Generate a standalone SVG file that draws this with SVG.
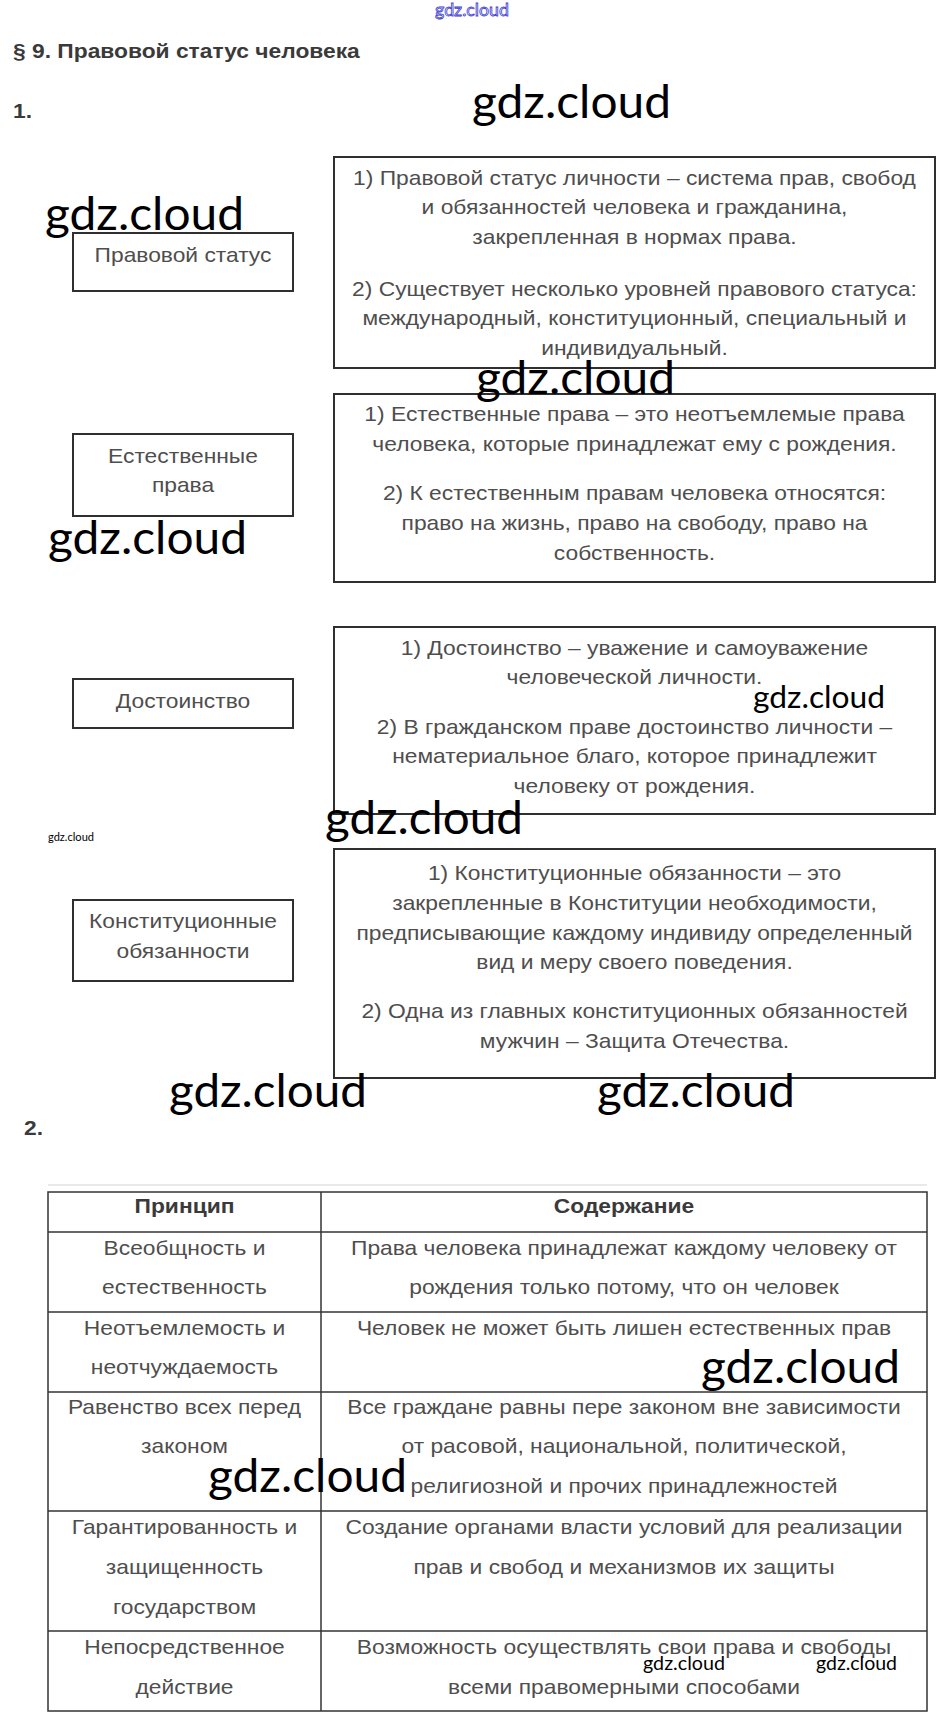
<svg xmlns="http://www.w3.org/2000/svg" width="944" height="1721" viewBox="0 0 944 1721">
<style>
.box{fill:none;stroke:#2f2f2f;stroke-width:2}
.t{font-family:"Liberation Sans",Arial,sans-serif;font-size:20px;fill:#4e4e4e;text-anchor:middle}
.h{font-family:"Liberation Sans",Arial,sans-serif;font-size:20px;font-weight:bold;fill:#3a3a3a}
.hc{text-anchor:middle}
.wm{font-family:Lato,"Open Sans",sans-serif;fill:#000}
.wmb{font-family:Lato,"Open Sans",sans-serif;fill:#fff;stroke:#3b3bd0;stroke-width:0.8}
.grid{stroke:#333;stroke-width:1.5;fill:none}
.faint{stroke:#e2e2e2;stroke-width:1.5;fill:none}
</style>
<rect width="944" height="1721" fill="#fff"/>

<g id="heading">
<text class="h" transform="matrix(1.14 0 0 1 13 58)">§ 9. Правовой статус человека</text>
<text class="h" transform="matrix(1.14 0 0 1 13 118)">1.</text>
</g>

<g id="connectors"></g>

<g id="node-pravovoy-status">
<rect class="box" x="73" y="233" width="220" height="58"/>
<text class="t" transform="matrix(1.14 0 0 1 183 262)">Правовой статус</text>
</g>
<g id="node-pravovoy-status-def">
<rect class="box" x="334" y="157" width="601" height="211"/>
<text class="t" transform="matrix(1.14 0 0 1 634.5 185)">1) Правовой статус личности – система прав, свобод</text>
<text class="t" transform="matrix(1.14 0 0 1 634.5 214)">и обязанностей человека и гражданина,</text>
<text class="t" transform="matrix(1.14 0 0 1 634.5 244)">закрепленная в нормах права.</text>
<text class="t" transform="matrix(1.14 0 0 1 634.5 296)">2) Существует несколько уровней правового статуса:</text>
<text class="t" transform="matrix(1.14 0 0 1 634.5 325)">международный, конституционный, специальный и</text>
<text class="t" transform="matrix(1.14 0 0 1 634.5 355)">индивидуальный.</text>
</g>

<g id="node-estestvennye-prava">
<rect class="box" x="73" y="434" width="220" height="82"/>
<text class="t" transform="matrix(1.14 0 0 1 183 463)">Естественные</text>
<text class="t" transform="matrix(1.14 0 0 1 183 492)">права</text>
</g>
<g id="node-estestvennye-prava-def">
<rect class="box" x="334" y="394" width="601" height="188"/>
<text class="t" transform="matrix(1.14 0 0 1 634.5 421)">1) Естественные права – это неотъемлемые права</text>
<text class="t" transform="matrix(1.14 0 0 1 634.5 451)">человека, которые принадлежат ему с рождения.</text>
<text class="t" transform="matrix(1.14 0 0 1 634.5 500)">2) К естественным правам человека относятся:</text>
<text class="t" transform="matrix(1.14 0 0 1 634.5 530)">право на жизнь, право на свободу, право на</text>
<text class="t" transform="matrix(1.14 0 0 1 634.5 560)">собственность.</text>
</g>

<g id="node-dostoinstvo">
<rect class="box" x="73" y="679" width="220" height="49"/>
<text class="t" transform="matrix(1.14 0 0 1 183 708)">Достоинство</text>
</g>
<g id="node-dostoinstvo-def">
<rect class="box" x="334" y="627" width="601" height="187"/>
<text class="t" transform="matrix(1.14 0 0 1 634.5 655)">1) Достоинство – уважение и самоуважение</text>
<text class="t" transform="matrix(1.14 0 0 1 634.5 684)">человеческой личности.</text>
<text class="t" transform="matrix(1.14 0 0 1 634.5 734)">2) В гражданском праве достоинство личности –</text>
<text class="t" transform="matrix(1.14 0 0 1 634.5 763)">нематериальное благо, которое принадлежит</text>
<text class="t" transform="matrix(1.14 0 0 1 634.5 793)">человеку от рождения.</text>
</g>

<g id="node-konst-obyazannosti">
<rect class="box" x="73" y="900" width="220" height="81"/>
<text class="t" transform="matrix(1.14 0 0 1 183 928)">Конституционные</text>
<text class="t" transform="matrix(1.14 0 0 1 183 958)">обязанности</text>
</g>
<g id="node-konst-obyazannosti-def">
<rect class="box" x="334" y="849" width="601" height="229"/>
<text class="t" transform="matrix(1.14 0 0 1 634.5 880)">1) Конституционные обязанности – это</text>
<text class="t" transform="matrix(1.14 0 0 1 634.5 910)">закрепленные в Конституции необходимости,</text>
<text class="t" transform="matrix(1.14 0 0 1 634.5 940)">предписывающие каждому индивиду определенный</text>
<text class="t" transform="matrix(1.14 0 0 1 634.5 969)">вид и меру своего поведения.</text>
<text class="t" transform="matrix(1.14 0 0 1 634.5 1018)">2) Одна из главных конституционных обязанностей</text>
<text class="t" transform="matrix(1.14 0 0 1 634.5 1048)">мужчин – Защита Отечества.</text>
</g>

<g id="heading-2">
<text class="h" transform="matrix(1.14 0 0 1 24 1135)" font-size="19">2.</text>
</g>

<g id="table">
<line class="faint" x1="48" y1="1185" x2="927" y2="1185"/>
<rect class="grid" x="48" y="1192" width="879" height="519"/>
<line class="grid" x1="321" y1="1192" x2="321" y2="1711"/>
<line class="grid" x1="48" y1="1232" x2="927" y2="1232"/>
<line class="grid" x1="48" y1="1312" x2="927" y2="1312"/>
<line class="grid" x1="48" y1="1392" x2="927" y2="1392"/>
<line class="grid" x1="48" y1="1511" x2="927" y2="1511"/>
<line class="grid" x1="48" y1="1631" x2="927" y2="1631"/>
<text class="h hc" transform="matrix(1.14 0 0 1 184.5 1213)">Принцип</text>
<text class="h hc" transform="matrix(1.14 0 0 1 624 1213)">Содержание</text>
<text class="t" transform="matrix(1.14 0 0 1 184.5 1255)">Всеобщность и</text>
<text class="t" transform="matrix(1.14 0 0 1 184.5 1294)">естественность</text>
<text class="t" transform="matrix(1.14 0 0 1 624 1255)">Права человека принадлежат каждому человеку от</text>
<text class="t" transform="matrix(1.14 0 0 1 624 1294)">рождения только потому, что он человек</text>
<text class="t" transform="matrix(1.14 0 0 1 184.5 1335)">Неотъемлемость и</text>
<text class="t" transform="matrix(1.14 0 0 1 184.5 1374)">неотчуждаемость</text>
<text class="t" transform="matrix(1.14 0 0 1 624 1335)">Человек не может быть лишен естественных прав</text>
<text class="t" transform="matrix(1.14 0 0 1 184.5 1414)">Равенство всех перед</text>
<text class="t" transform="matrix(1.14 0 0 1 184.5 1453)">законом</text>
<text class="t" transform="matrix(1.14 0 0 1 624 1414)">Все граждане равны пере законом вне зависимости</text>
<text class="t" transform="matrix(1.14 0 0 1 624 1453)">от расовой, национальной, политической,</text>
<text class="t" transform="matrix(1.14 0 0 1 624 1493)">религиозной и прочих принадлежностей</text>
<text class="t" transform="matrix(1.14 0 0 1 184.5 1534)">Гарантированность и</text>
<text class="t" transform="matrix(1.14 0 0 1 184.5 1574)">защищенность</text>
<text class="t" transform="matrix(1.14 0 0 1 184.5 1614)">государством</text>
<text class="t" transform="matrix(1.14 0 0 1 624 1534)">Создание органами власти условий для реализации</text>
<text class="t" transform="matrix(1.14 0 0 1 624 1574)">прав и свобод и механизмов их защиты</text>
<text class="t" transform="matrix(1.14 0 0 1 184.5 1654)">Непосредственное</text>
<text class="t" transform="matrix(1.14 0 0 1 184.5 1694)">действие</text>
<text class="t" transform="matrix(1.14 0 0 1 624 1654)">Возможность осуществлять свои права и свободы</text>
<text class="t" transform="matrix(1.14 0 0 1 624 1694)">всеми правомерными способами</text>
</g>

<g id="watermarks">
<text class="wmb" x="435" y="16" font-size="17" textLength="74" lengthAdjust="spacingAndGlyphs">gdz.cloud</text>
<text class="wm" x="472" y="118" font-size="46" textLength="199" lengthAdjust="spacingAndGlyphs">gdz.cloud</text>
<text class="wm" x="45" y="230" font-size="46" textLength="199" lengthAdjust="spacingAndGlyphs">gdz.cloud</text>
<text class="wm" x="476" y="394" font-size="46" textLength="199" lengthAdjust="spacingAndGlyphs">gdz.cloud</text>
<text class="wm" x="48" y="554" font-size="46" textLength="199" lengthAdjust="spacingAndGlyphs">gdz.cloud</text>
<text class="wm" x="753" y="708" font-size="30" textLength="132" lengthAdjust="spacingAndGlyphs">gdz.cloud</text>
<text class="wm" x="325" y="834" font-size="46" textLength="198" lengthAdjust="spacingAndGlyphs">gdz.cloud</text>
<text class="wm" x="48" y="841" font-size="10.5" textLength="46" lengthAdjust="spacingAndGlyphs">gdz.cloud</text>
<text class="wm" x="169" y="1107" font-size="46" textLength="198" lengthAdjust="spacingAndGlyphs">gdz.cloud</text>
<text class="wm" x="597" y="1107" font-size="46" textLength="198" lengthAdjust="spacingAndGlyphs">gdz.cloud</text>
<text class="wm" x="701" y="1383" font-size="46" textLength="199" lengthAdjust="spacingAndGlyphs">gdz.cloud</text>
<text class="wm" x="208" y="1492" font-size="46" textLength="199" lengthAdjust="spacingAndGlyphs">gdz.cloud</text>
<text class="wm" x="643" y="1670" font-size="19" textLength="82" lengthAdjust="spacingAndGlyphs">gdz.cloud</text>
<text class="wm" x="816" y="1670" font-size="19" textLength="81" lengthAdjust="spacingAndGlyphs">gdz.cloud</text>
</g>
</svg>
